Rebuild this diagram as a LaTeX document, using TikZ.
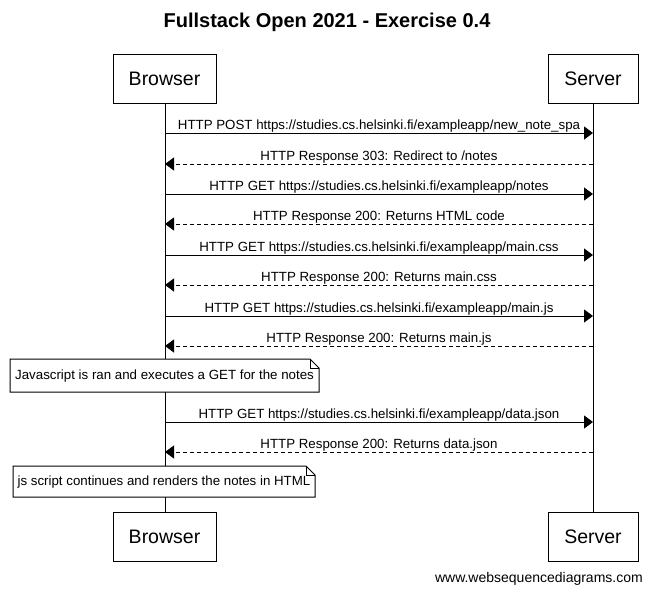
\documentclass[tikz,border=0pt]{standalone}
\usepackage{fontspec}
\setmainfont{Liberation Sans}
\usetikzlibrary{arrows.meta}
\begin{document}
\begin{tikzpicture}[x=1pt,y=-1pt,
  actor/.style={draw=black,line width=1pt,fill=white,minimum height=49pt,inner sep=0pt,font=\fontsize{19.5}{22}\selectfont},
  life/.style={line width=1pt},
  req/.style={line width=1pt,-{Triangle[length=9pt,width=13pt]}},
  resp/.style={line width=1pt,dash pattern=on 4pt off 3pt,-{Triangle[length=9pt,width=13pt]}},
  lbl/.style={anchor=base,inner sep=0pt,font=\fontsize{13.3}{15}\selectfont},
  notebox/.style={draw=black,line width=1pt,fill=white},
  notetext/.style={inner sep=0pt,font=\fontsize{13.3}{15}\selectfont}
]
\useasboundingbox (0,0) rectangle (652,595);
\fill[white] (0,0) rectangle (652,595);

\node[font=\bfseries\fontsize{20}{24}\selectfont] (title) at (327,22) {Fullstack Open 2021 - Exercise 0.4};

% lifelines
\coordinate (bl) at (165,103);
\coordinate (sl) at (593,103);
\coordinate (blb) at (165,512);
\coordinate (slb) at (593,512);
\draw[life] (bl) -- (blb);
\draw[life] (sl) -- (slb);

\node[actor,minimum width=103pt] (bt) at (164.5,78.5) {Browser};
\node[actor,minimum width=90pt] (st) at (593,78.5) {Server};
\node[actor,minimum width=103pt] (bb) at (164.5,536.5) {Browser};
\node[actor,minimum width=90pt] (sb) at (593,536.5) {Server};

% message end points
\foreach \i/\y in {1/133,2/164,3/194,4/224,5/255,6/285,7/316,8/346,9/422,10/452}{
  \coordinate (b\i) at (165,\y);
  \coordinate (s\i) at (593,\y);
}

\draw[req] (b1) -- (s1) node[lbl,midway,yshift=4pt] (m1) {HTTP POST https://studies.cs.helsinki.fi/exampleapp/new\_note\_spa};
\draw[resp] (s2) -- (b2) node[lbl,midway,yshift=4pt] (m2) {HTTP Response 303: Redirect to /notes};
\draw[req] (b3) -- (s3) node[lbl,midway,yshift=4pt] (m3) {HTTP GET https://studies.cs.helsinki.fi/exampleapp/notes};
\draw[resp] (s4) -- (b4) node[lbl,midway,yshift=4pt] (m4) {HTTP Response 200: Returns HTML code};
\draw[req] (b5) -- (s5) node[lbl,midway,yshift=4pt] (m5) {HTTP GET https://studies.cs.helsinki.fi/exampleapp/main.css};
\draw[resp] (s6) -- (b6) node[lbl,midway,yshift=4pt] (m6) {HTTP Response 200: Returns main.css};
\draw[req] (b7) -- (s7) node[lbl,midway,yshift=4pt] (m7) {HTTP GET https://studies.cs.helsinki.fi/exampleapp/main.js};
\draw[resp] (s8) -- (b8) node[lbl,midway,yshift=4pt] (m8) {HTTP Response 200: Returns main.js};
\draw[req] (b9) -- (s9) node[lbl,midway,yshift=4pt] (m9) {HTTP GET https://studies.cs.helsinki.fi/exampleapp/data.json};
\draw[resp] (s10) -- (b10) node[lbl,midway,yshift=4pt] (m10) {HTTP Response 200: Returns data.json};

% note 1
\draw[notebox] (10,359) -- (310,359) -- (319,368) -- (319,392) -- (10,392) -- cycle;
\draw[line width=1pt] (310,359) -- (310,368) -- (319,368);
\node[notetext] (n1) at (164.5,376) {Javascript is ran and executes a GET for the notes};

% note 2
\draw[notebox] (13,466) -- (306,466) -- (315,475) -- (315,497) -- (13,497) -- cycle;
\draw[line width=1pt] (306,466) -- (306,475) -- (315,475);
\node[notetext] (n2) at (164,482) {js script continues and renders the notes in HTML};

\node[anchor=east,inner sep=0pt,font=\fontsize{14}{16}\selectfont] (footer) at (643,579) {www.websequencediagrams.com};
\end{tikzpicture}
\end{document}
